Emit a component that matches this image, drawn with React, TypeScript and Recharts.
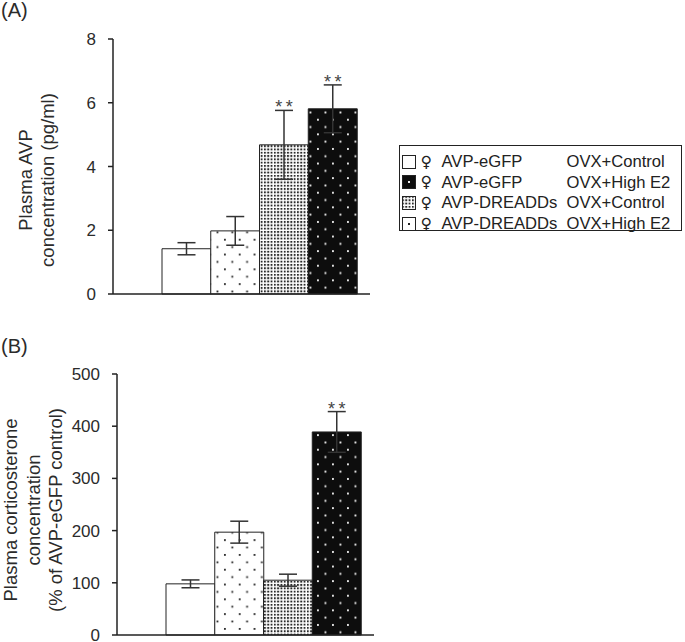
import { Bar, BarChart, Cell, ErrorBar, LabelList, XAxis, YAxis } from 'recharts';

// bar order as drawn (left to right)
const groups = ['AVP-eGFP OVX+Control', 'AVP-DREADDs OVX+High E2', 'AVP-DREADDs OVX+Control', 'AVP-eGFP OVX+High E2'];
const fills = ['#fff', 'url(#p-sparse)', 'url(#p-dense)', 'url(#p-black)'];

const avpMean = [1.42, 1.98, 4.68, 5.81];
const avpSem = [0.19, 0.45, 1.08, 0.75];
const avpStars = ['', '', '**', '**'];
const avpTicks = [0, 2, 4, 6, 8];

const cortMean = [98, 197, 105, 389];
const cortSem = [7.5, 21, 11.5, 39];
const cortStars = ['', '', '', '**'];
const cortTicks = [0, 100, 200, 300, 400, 500];

// legend order
const legendGenotype = ['AVP-eGFP', 'AVP-eGFP', 'AVP-DREADDs', 'AVP-DREADDs'];
const legendTreatment = ['OVX+Control', 'OVX+High E2', 'OVX+Control', 'OVX+High E2'];
const legendSwatch = ['white', 'blackDot', 'dense', 'whiteDot'];

const INK = '#222';
const TEXT = '#2b2b2b';
const FONT = '"Liberation Sans", Arial, sans-serif';

const starLabel = (stars: string[], sem: number[]) => (props: any) => {
  const { x, y, width, height, value, index } = props;
  if (!stars[index]) return null;
  const top = y - (sem[index] * height) / value;
  return (
    <text x={x + width / 2} y={top + 3} textAnchor="middle" fontSize={18} fill="#444" fontFamily={FONT}>
      {stars[index].split('').join('\u2009')}
    </text>
  );
};

const Panel = ({
  mean,
  sem,
  stars,
  ticks,
  title,
  titleY,
  labelLines,
  labelX,
  labelY,
  plotLeft,
  height,
  marginTop,
  marginBottom,
}: {
  mean: number[];
  sem: number[];
  stars: string[];
  ticks: number[];
  title: string;
  titleY: number;
  labelLines: string[];
  labelX: number[];
  labelY: number;
  plotLeft: number;
  height: number;
  marginTop: number;
  marginBottom: number;
}) => {
  const data = groups.map((name, i) => ({ name, mean: mean[i], sem: sem[i] }));
  return (
    <BarChart
      width={685}
      height={height}
      data={data}
      barCategoryGap={0}
      margin={{ top: marginTop, right: 685 - plotLeft - 257, bottom: marginBottom, left: plotLeft - 60 }}
    >
      <text x={1} y={titleY} fontSize={20} fill={TEXT} fontFamily={FONT}>
        {title}
      </text>
      {labelLines.map((line, i) => (
        <text
          key={line}
          x={labelX[i]}
          y={labelY}
          transform={`rotate(-90, ${labelX[i]}, ${labelY})`}
          textAnchor="middle"
          fontSize={18.5}
          fill={TEXT}
          fontFamily={FONT}
        >
          {line}
        </text>
      ))}
      <XAxis
        dataKey="name"
        type="category"
        height={1}
        padding={{ left: 49, right: 13 }}
        tick={false}
        tickLine={false}
        axisLine={{ stroke: INK, strokeWidth: 1.5 }}
      />
      <YAxis
        width={60}
        domain={[0, ticks[ticks.length - 1]]}
        ticks={ticks}
        interval={0}
        tickSize={5}
        tickMargin={12}
        axisLine={{ stroke: INK, strokeWidth: 1.5 }}
        tickLine={{ stroke: INK, strokeWidth: 1.5 }}
        tick={{ fill: TEXT, fontSize: 17, fontFamily: FONT }}
      />
      <Bar dataKey="mean" stroke={INK} strokeWidth={1} isAnimationActive={false}>
        {data.map((d, i) => (
          <Cell key={d.name} fill={fills[i]} />
        ))}
        <ErrorBar dataKey="sem" width={9} stroke="#333" strokeWidth={1.5} />
        <LabelList dataKey="mean" content={starLabel(stars, sem)} />
      </Bar>
    </BarChart>
  );
};

const Swatch = ({ kind }: { kind: string }) => {
  const bg = kind === 'blackDot' ? '#0d0d0d' : kind === 'dense' ? 'url(#p-dense)' : '#fff';
  return (
    <svg width={14} height={14} style={{ display: 'block' }}>
      <rect x={0.5} y={0.5} width={13} height={13} fill={bg} stroke={INK} strokeWidth={1} />
      {kind === 'blackDot' && <rect x={6} y={6} width={2} height={2} fill="#eee" />}
      {kind === 'whiteDot' && <rect x={6} y={6} width={2} height={2} fill={INK} />}
    </svg>
  );
};

export default function App() {
  return (
    <div style={{ position: 'absolute', left: 0, top: 0, width: 685, height: 642, background: '#fff', fontFamily: FONT }}>
      <svg width={0} height={0} style={{ position: 'absolute' }}>
        <defs>
          <pattern id="p-sparse" width={14.8} height={14.8} patternUnits="userSpaceOnUse">
            <rect width={14.8} height={14.8} fill="#fff" />
            <rect x={2} y={2} width={1.8} height={1.8} fill={INK} />
            <rect x={9.4} y={9.4} width={1.8} height={1.8} fill={INK} />
          </pattern>
          <pattern id="p-dense" width={3.3} height={3.3} patternUnits="userSpaceOnUse">
            <rect width={3.3} height={3.3} fill="#fff" />
            <rect x={0} y={0} width={1.9} height={1.9} fill="#2a2a2a" />
          </pattern>
          <pattern id="p-black" width={15} height={14.6} patternUnits="userSpaceOnUse">
            <rect width={15} height={14.6} fill="#0d0d0d" />
            <rect x={2} y={2} width={1.9} height={1.9} fill="#e8e8e8" />
            <rect x={9.5} y={9.3} width={1.9} height={1.9} fill="#e8e8e8" />
          </pattern>
        </defs>
      </svg>

      <div style={{ position: 'absolute', left: 0, top: 0 }}>
        <Panel
          mean={avpMean}
          sem={avpSem}
          stars={avpStars}
          ticks={avpTicks}
          title="(A)"
          titleY={17}
          labelLines={['Plasma AVP', 'concentration (pg/ml)']}
          labelX={[32, 54]}
          labelY={180}
          plotLeft={113}
          height={312}
          marginTop={39}
          marginBottom={17}
        />
      </div>

      <div style={{ position: 'absolute', left: 0, top: 330 }}>
        <Panel
          mean={cortMean}
          sem={cortSem}
          stars={cortStars}
          ticks={cortTicks}
          title="(B)"
          titleY={23}
          labelLines={['Plasma corticosterone', 'concentration', '(% of AVP-eGFP control)']}
          labelX={[17, 40, 62]}
          labelY={180}
          plotLeft={117}
          height={312}
          marginTop={44}
          marginBottom={6}
        />
      </div>

      <div
        style={{
          position: 'absolute',
          left: 399,
          top: 145,
          width: 283,
          height: 86,
          border: `1.5px solid ${INK}`,
          boxSizing: 'border-box',
          color: INK,
          fontSize: 16.6,
        }}
      >
        {legendGenotype.map((g, i) => (
          <div key={i} style={{ position: 'absolute', left: 0, top: 5 + i * 20.7, height: 21, width: '100%' }}>
            <div style={{ position: 'absolute', left: 1.5, top: 3.5 }}>
              <Swatch kind={legendSwatch[i]} />
            </div>
            <span style={{ position: 'absolute', left: 20.5, top: 0.5, lineHeight: '21px', fontFamily: '"DejaVu Sans", sans-serif', fontSize: 15.5 }}>
              ♀
            </span>
            <span style={{ position: 'absolute', left: 41.5, lineHeight: '21px' }}>{g}</span>
            <span style={{ position: 'absolute', left: 166.5, lineHeight: '21px' }}>{legendTreatment[i]}</span>
          </div>
        ))}
      </div>
    </div>
  );
}
